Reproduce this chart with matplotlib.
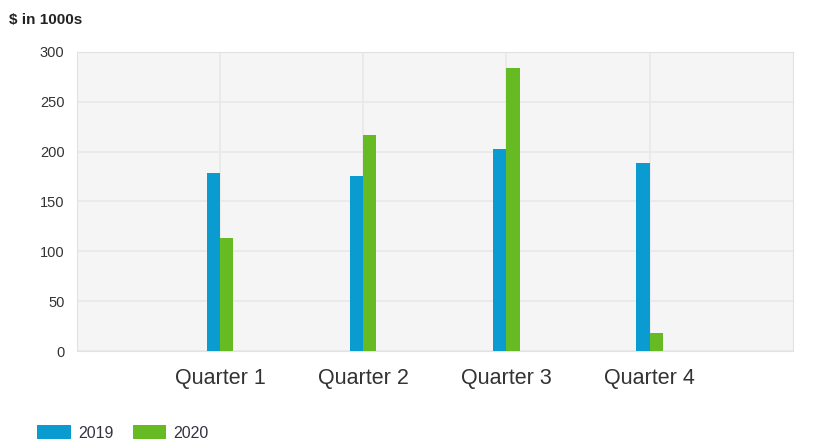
import numpy as np
from matplotlib import pyplot as plt

quarters = ['Quarter 1', 'Quarter 2', 'Quarter 3', 'Quarter 4']
sales_2019 = [179, 176, 203, 189]
sales_2020 = [113, 217, 284, 18]

plt.rcParams['font.family'] = ['Liberation Sans', 'DejaVu Sans']

fig = plt.figure(figsize=(8.19, 4.48), dpi=100)
ax = fig.add_axes([0.094, 0.2165, 0.874, 0.6675])
ax.set_facecolor('#f5f5f5')

x = np.arange(1, len(quarters) + 1)
w = 0.092
ax.bar(x - w / 2, sales_2019, w, color='#0a9bd0', label='2019', zorder=3)
ax.bar(x + w / 2, sales_2020, w, color='#66bb22', label='2020', zorder=3)

ax.set_xlim(0, 5)
ax.set_ylim(0, 300)
ax.set_xticks(x)
ax.set_xticklabels(quarters, fontsize=15.5, color='#333333')
ax.set_yticks(np.arange(0, 301, 50))
ax.tick_params(axis='y', labelsize=10.5, labelcolor='#333333', length=0, pad=9)
ax.tick_params(axis='x', length=0, pad=12.5)
ax.grid(True, color='#e8e8e8', linewidth=1.2, zorder=0)
for s in ax.spines.values():
    s.set_color('#e2e2e2')

fig.text(0.011, 0.956, '$ in 1000s', fontsize=11, fontweight='bold',
         color='#222222', va='center')

fig.legend(loc='lower left', bbox_to_anchor=(0.028, -0.016), ncol=2, frameon=False,
           fontsize=11.5, handlelength=2.1, handleheight=0.95, handletextpad=0.45,
           columnspacing=1.2, labelcolor='#333344')

plt.savefig('out.png', dpi=100)
